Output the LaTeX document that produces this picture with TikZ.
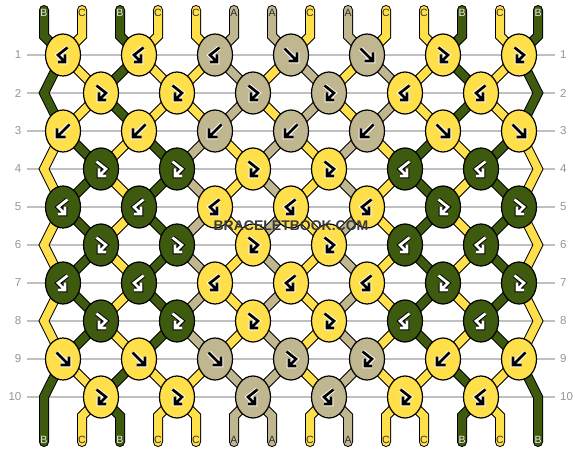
\documentclass[tikz,border=0pt]{standalone}
\usepackage{fontspec}
\setmainfont{Liberation Sans}
\usetikzlibrary{shapes.geometric}
\definecolor{cy}{RGB}{255,224,74}
\definecolor{ct}{RGB}{192,182,143}
\definecolor{cg}{RGB}{62,90,14}
\definecolor{uy}{RGB}{255,255,255}
\definecolor{ut}{RGB}{255,255,255}
\definecolor{ug}{RGB}{0,0,0}
\definecolor{oy}{RGB}{0,0,0}
\definecolor{ot}{RGB}{0,0,0}
\definecolor{og}{RGB}{255,255,255}
\definecolor{laby}{RGB}{45,45,45}
\definecolor{labt}{RGB}{45,45,45}
\definecolor{labg}{RGB}{235,235,235}
\definecolor{gridc}{RGB}{192,192,192}
\definecolor{numc}{RGB}{150,150,150}
\definecolor{wmc}{RGB}{58,58,58}
\pgfdeclarelayer{bg}
\pgfsetlayers{bg,main}
\newcommand\evenname[3]{\ifnum#3=1 \edef#1{eL#2}\else\ifnum#3=14 \edef#1{eR#2}\else\pgfmathtruncatemacro\tmpk{floor(#3/2)}\edef#1{k#2-\tmpk}\fi\fi}
\tikzset{
  knot/.style={ellipse, draw=black, line width=1.2pt, fill=c#1, minimum width=35pt, minimum height=42pt, inner sep=0pt},
  thread/.style={draw=black, line width=1pt, double=c#1, double distance=8pt, line cap=round, line join=miter},
  glu/.style={draw=u#1, line width=4.6pt, line join=miter},
  glo/.style={draw=o#1, line width=2.7pt, line join=miter},
  lab/.style={text=lab#1, inner sep=0pt, font=\fontsize{10.5}{11}\selectfont},
  num/.style={text=numc, inner sep=0pt, font=\fontsize{11.5}{12}\selectfont},
  gridline/.style={draw=gridc, line width=1.3pt},
  wm/.style={inner sep=0pt, font=\bfseries\fontsize{14}{14}\selectfont},
  pics/arf/.style={code={
    \draw[glu=#1] (-6.5,-6.5) -- (6,6) (6,-2.5) -- (6,6) -- (-2.5,6);
    \draw[glo=#1] (-6.5,-6.5) -- (6,6) (6,-2.5) -- (6,6) -- (-2.5,6);}},
  pics/arb/.style={code={
    \draw[glu=#1] (6.5,-6.5) -- (-6,6) (-6,-2.5) -- (-6,6) -- (2.5,6);
    \draw[glo=#1] (6.5,-6.5) -- (-6,6) (-6,-2.5) -- (-6,6) -- (2.5,6);}},
  pics/arfb/.style={code={
    \draw[glu=#1] (-4.5,-7.5) -- (5,0) -- (-2,7) (-2,-0.5) -- (-2,7) -- (5,7);
    \draw[glo=#1] (-4.5,-7.5) -- (5,0) -- (-2,7) (-2,-0.5) -- (-2,7) -- (5,7);}},
  pics/arbf/.style={code={
    \draw[glu=#1] (4.5,-7.5) -- (-5,0) -- (2,7) (2,-0.5) -- (2,7) -- (-5,7);
    \draw[glo=#1] (4.5,-7.5) -- (-5,0) -- (2,7) (2,-0.5) -- (2,7) -- (-5,7);}},
}
\begin{document}
\begin{tikzpicture}[x=1pt, y=-1pt]
\useasboundingbox (0,0) rectangle (582,452);

% knots
\foreach \r/\lst in {
 1/{bf/y,bf/y,bf/t,f/t,f/t,fb/y,fb/y},
 2/{fb/y,fb/y,fb/t,fb/t,bf/y,bf/y},
 3/{b/y,b/y,b/t,b/t,b/t,f/y,f/y},
 4/{fb/g,fb/g,fb/y,fb/y,bf/g,bf/g},
 5/{bf/g,bf/g,bf/y,bf/y,bf/y,fb/g,fb/g},
 6/{fb/g,fb/g,fb/y,fb/y,bf/g,bf/g},
 7/{bf/g,bf/g,bf/y,bf/y,bf/y,fb/g,fb/g},
 8/{fb/g,fb/g,fb/y,fb/y,bf/g,bf/g},
 9/{f/y,f/y,f/t,fb/t,fb/t,b/y,b/y},
 10/{fb/y,fb/y,bf/t,bf/t,fb/y,bf/y}}{
  \pgfmathsetmacro\yy{55+38*(\r-1)}
  \ifodd\r\relax \def\xo{63}\else\def\xo{101}\fi
  \foreach \ty/\cl [count=\i] in \lst {
    \pgfmathsetmacro\xx{\xo+76*(\i-1)}
    \node[knot=\cl] (k\r-\i) at (\xx,\yy) {};
    \edef\tmp{\noexpand\pic at (k\r-\i.center) {ar\ty=\cl};}\tmp
  }
}

% row numbers and grid coordinates
\foreach \r in {1,...,10}{
  \pgfmathsetmacro\yy{55+38*(\r-1)}
  \node[num, anchor=east] (nl\r) at (21.5,\yy) {\r};
  \node[num, anchor=west] (nr\r) at (560,\yy) {\r};
  \coordinate (gl\r) at (27,\yy);
  \coordinate (gr\r) at (555,\yy);
}
\foreach \r in {2,4,6,8,10}{
  \pgfmathsetmacro\yy{55+38*(\r-1)}
  \coordinate (eL\r) at (44,\yy);
  \coordinate (eR\r) at (538,\yy);
}

% string ends and labels
\foreach \p/\c/\L in {1/g/B,2/y/C,3/g/B,4/y/C,5/y/C,6/t/A,7/t/A,8/y/C,9/t/A,10/y/C,11/y/C,12/g/B,13/y/C,14/g/B}{
  \pgfmathsetmacro\xx{44+38*(\p-1)}
  \coordinate (t\p) at (\xx,10);
  \coordinate (tb\p) at (\xx,36);
  \coordinate (bb\p) at (\xx,416);
  \coordinate (b\p) at (\xx,442);
  \node[lab=\c] (lt\p) at (\xx,13) {\L};
  \node[lab=\c] (lb\p) at (\xx,440) {\L};
}

% watermark
\node[wm, text=wmc] (wm) at (291,226) {BRACELETBOOK.COM};

\begin{pgfonlayer}{bg}
  \fill[white] (0,0) rectangle (582,452);
  \foreach \r in {1,...,10}{ \draw[gridline] (gl\r) -- (gr\r); }
  \foreach \t/\c/\qa/\qb/\qc/\qd in {1/g/1/1/2/1, 2/y/2/2/1/2, 3/g/3/3/4/3, 4/y/4/4/3/4, 5/y/5/5/6/5, 6/t/6/6/5/6, 7/t/7/8/7/7, 8/y/8/7/8/8, 9/t/9/10/9/9, 10/y/10/9/10/10, 11/y/11/11/12/11, 12/g/12/12/11/12, 13/y/13/13/14/13, 14/g/14/14/13/14}{
    \pgfmathtruncatemacro\oa{ceil(\qa/2)}
    \pgfmathtruncatemacro\ob{ceil(\qb/2)}
    \pgfmathtruncatemacro\oc{ceil(\qc/2)}
    \evenname\nB{2}{\qb}
    \evenname\nD{4}{\qc}
    \evenname\nF{6}{\qc}
    \evenname\nH{8}{\qc}
    \evenname\nJ{10}{\qd}
    \draw[thread=\c] (t\t) -- (tb\t) -- (k1-\oa.center) -- (\nB.center) -- (k3-\ob.center) -- (\nD.center) -- (k5-\oc.center) -- (\nF.center) -- (k7-\oc.center) -- (\nH.center) -- (k9-\oc.center) -- (\nJ.center) -- (bb\qd) -- (b\qd);
  }
\end{pgfonlayer}
\end{tikzpicture}
\end{document}
